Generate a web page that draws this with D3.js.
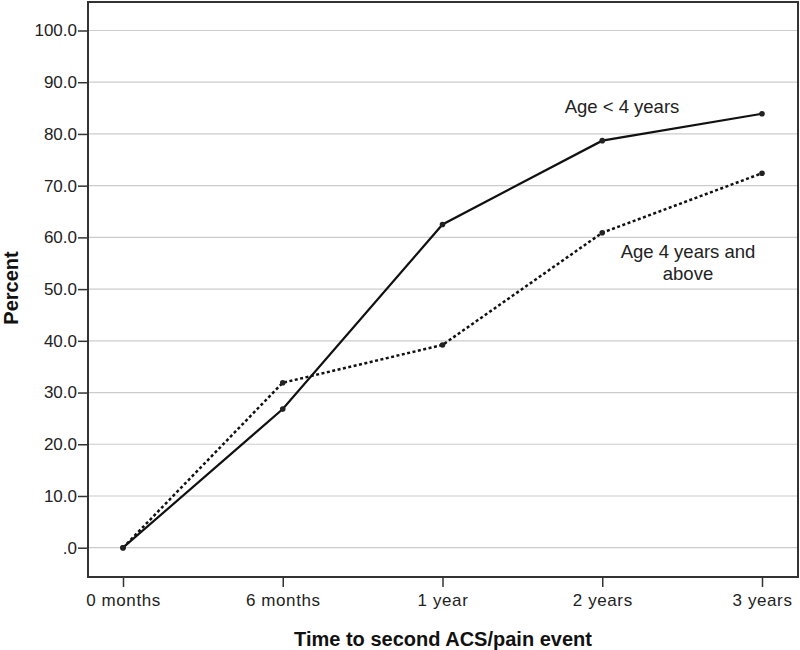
<html>
<head>
<title>Time to second ACS/pain event</title>
<style type="text/css">
* { margin: 0; padding: 0; }
body { background: #fff; font-family: "Liberation Sans", Arial, sans-serif; }
.tick text { font-family: "Liberation Sans", Arial, sans-serif; font-size: 17px; fill: #222; }
.xaxis .tick text { letter-spacing: 0.6px; }
.tick line { stroke: #333; stroke-width: 1.5; }
.grid line { stroke: #ccc; stroke-width: 1.2; }
.axisTitle { font-size: 20px; font-weight: bold; fill: #111; }
.seriesLabel { font-size: 18.5px; fill: #222; }
</style>
<script type="text/javascript" src="https://cdn.jsdelivr.net/npm/d3@7"></script>
</head>
<body>
<div id="chart"></div>
<script type="text/javascript">
// categories on the x axis
var timePoints = ["0 months", "6 months", "1 year", "2 years", "3 years"];
// percent with second event, per age group
var youngerValues = [0, 26.8, 62.5, 78.7, 83.9];   // Age < 4 years
var olderValues = [0, 31.9, 39.2, 60.9, 72.4];     // Age 4 years and above
var yTicks = [0, 10, 20, 30, 40, 50, 60, 70, 80, 90, 100];

var width = 800, height = 650;
var frame = { left: 88, top: 2, right: 798, bottom: 577 };

var svg = d3.select("#chart").append("svg")
  .attr("width", width)
  .attr("height", height);

var x = d3.scalePoint()
  .domain(timePoints)
  .range([123, 762]);

var y = d3.scaleLinear()
  .domain([0, 100])
  .range([547.7, 30.5]);

//gridlines
svg.append("g").attr("class", "grid")
  .selectAll("line")
  .data(yTicks)
  .enter().append("line")
  .attr("x1", frame.left)
  .attr("x2", frame.right)
  .attr("y1", function(d) { return y(d); })
  .attr("y2", function(d) { return y(d); });

//axes
var yAxis = d3.axisLeft(y)
  .tickValues(yTicks)
  .tickSize(10)
  .tickPadding(1)
  .tickFormat(function(d) { return d == 0 ? ".0" : d.toFixed(1); });

svg.append("g")
  .attr("transform", "translate(" + frame.left + ",0)")
  .call(yAxis)
  .call(function(g) { g.select(".domain").remove(); });

var xAxis = d3.axisBottom(x)
  .tickSize(10)
  .tickPadding(7);

svg.append("g")
  .attr("class", "xaxis")
  .attr("transform", "translate(0," + frame.bottom + ")")
  .call(xAxis)
  .call(function(g) { g.select(".domain").remove(); });

//frame
svg.append("rect")
  .attr("x", frame.left)
  .attr("y", frame.top)
  .attr("width", frame.right - frame.left)
  .attr("height", frame.bottom - frame.top)
  .attr("fill", "none")
  .attr("stroke", "#333")
  .attr("stroke-width", 2);

//series
var line = d3.line()
  .x(function(d, i) { return x(timePoints[i]); })
  .y(function(d) { return y(d); });

function drawSeries(values, dash) {
  svg.append("path")
    .datum(values)
    .attr("fill", "none")
    .attr("stroke", "#111")
    .attr("stroke-width", dash ? 2.5 : 2.2)
    .attr("stroke-dasharray", dash ? "3,2.5" : null)
    .attr("d", line);
  svg.append("g").selectAll("circle")
    .data(values)
    .enter().append("circle")
    .attr("cx", function(d, i) { return x(timePoints[i]); })
    .attr("cy", function(d) { return y(d); })
    .attr("r", 2.8)
    .attr("fill", "#222");
}

drawSeries(olderValues, true);
drawSeries(youngerValues, false);

//series labels
svg.append("text").attr("class", "seriesLabel")
  .attr("x", 622).attr("y", 113)
  .attr("text-anchor", "middle")
  .text("Age < 4 years");
svg.append("text").attr("class", "seriesLabel")
  .attr("x", 688).attr("y", 258)
  .attr("text-anchor", "middle")
  .text("Age 4 years and");
svg.append("text").attr("class", "seriesLabel")
  .attr("x", 688).attr("y", 280)
  .attr("text-anchor", "middle")
  .text("above");

//axis titles
svg.append("text").attr("class", "axisTitle")
  .attr("x", 443).attr("y", 646)
  .attr("text-anchor", "middle")
  .text("Time to second ACS/pain event");
svg.append("text").attr("class", "axisTitle")
  .attr("transform", "translate(18,288) rotate(-90)")
  .attr("text-anchor", "middle")
  .text("Percent");
</script>
</body>
</html>
